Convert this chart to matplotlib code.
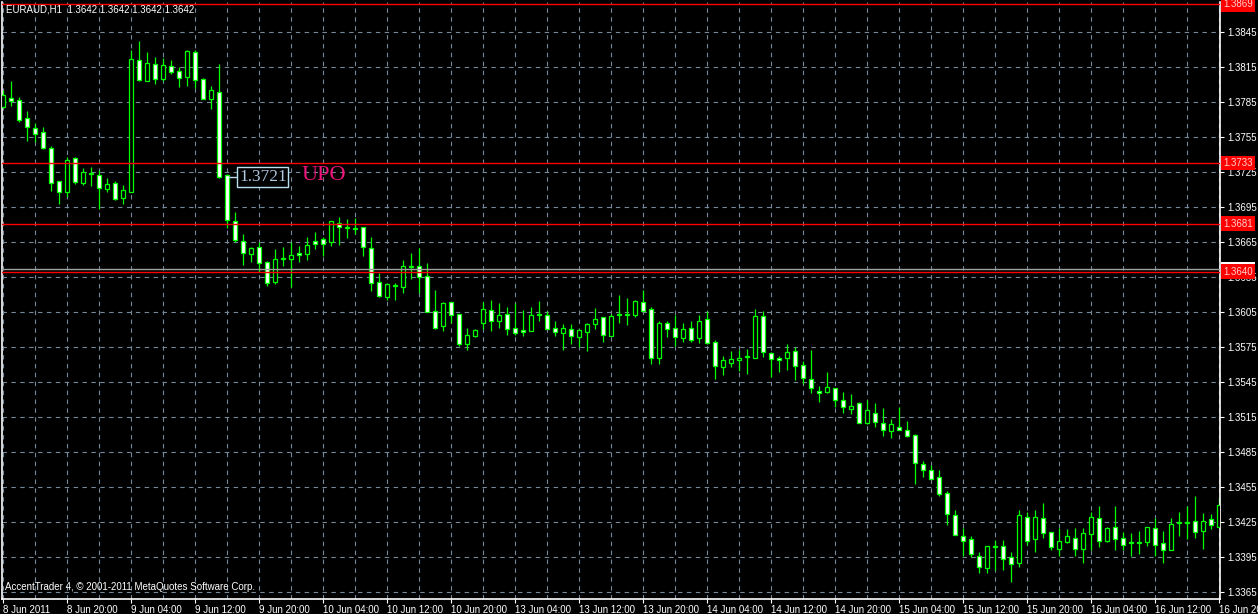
import numpy as np
import matplotlib
matplotlib.use("Agg")
from matplotlib import pyplot as plt
from matplotlib.transforms import blended_transform_factory

# EURAUD H1 candles, 8 Jun 2011 12:00 .. 16 Jun 2011 20:00
opens = [1.3781, 1.3789, 1.3787, 1.3772, 1.3763, 1.3760, 1.3746, 1.3718, 1.3708, 1.3737,
         1.3716, 1.3724, 1.3723, 1.3711, 1.3716, 1.3703, 1.3708, 1.3821, 1.3803, 1.3818,
         1.3805, 1.3816, 1.3812, 1.3807, 1.3828, 1.3805, 1.3788, 1.3794, 1.3723, 1.3683,
         1.3666, 1.3655, 1.3661, 1.3648, 1.3631, 1.3651, 1.3651, 1.3656, 1.3655, 1.3666,
         1.3668, 1.3665, 1.3682, 1.3678, 1.3677, 1.3678, 1.3660, 1.3631, 1.3618, 1.3628,
         1.3627, 1.3644, 1.3645, 1.3636, 1.3606, 1.3593, 1.3614, 1.3604, 1.3578, 1.3585,
         1.3596, 1.3607, 1.3598, 1.3604, 1.3592, 1.3590, 1.3589, 1.3603, 1.3603, 1.3592,
         1.3587, 1.3591, 1.3584, 1.3588, 1.3595, 1.3601, 1.3585, 1.3603, 1.3603, 1.3603,
         1.3614, 1.3608, 1.3566, 1.3596, 1.3592, 1.3583, 1.3592, 1.3583, 1.3599, 1.3580,
         1.3558, 1.3562, 1.3564, 1.3567, 1.3566, 1.3602, 1.3570, 1.3566, 1.3566, 1.3572,
         1.3560, 1.3548, 1.3538, 1.3537, 1.3540, 1.3530, 1.3522, 1.3527, 1.3510, 1.3519,
         1.3510, 1.3503, 1.3507, 1.3504, 1.3500, 1.3475, 1.3470, 1.3464, 1.3450, 1.3431,
         1.3413, 1.3411, 1.3396, 1.3386, 1.3404, 1.3405, 1.3395, 1.3390, 1.3430, 1.3411,
         1.3429, 1.3417, 1.3402, 1.3408, 1.3412, 1.3402, 1.3415, 1.3429, 1.3409, 1.3421,
         1.3412, 1.3408, 1.3408, 1.3408, 1.3420, 1.3407, 1.3401, 1.3425, 1.3425, 1.3426,
         1.3418, 1.3428, 1.3421]
highs = [1.3796, 1.3803, 1.3790, 1.3778, 1.3767, 1.3764, 1.3748, 1.3718, 1.3738, 1.3738,
         1.3729, 1.3730, 1.3727, 1.3720, 1.3718, 1.3714, 1.3830, 1.3838, 1.3828, 1.3824,
         1.3823, 1.3821, 1.3815, 1.3830, 1.3830, 1.3806, 1.3799, 1.3818, 1.3724, 1.3691,
         1.3672, 1.3661, 1.3665, 1.3649, 1.3659, 1.3661, 1.3665, 1.3662, 1.3670, 1.3674,
         1.3670, 1.3683, 1.3687, 1.3685, 1.3686, 1.3678, 1.3670, 1.3639, 1.3630, 1.3630,
         1.3650, 1.3656, 1.3660, 1.3647, 1.3624, 1.3614, 1.3614, 1.3604, 1.3592, 1.3591,
         1.3614, 1.3616, 1.3613, 1.3610, 1.3613, 1.3607, 1.3610, 1.3615, 1.3606, 1.3598,
         1.3595, 1.3595, 1.3591, 1.3596, 1.3609, 1.3601, 1.3604, 1.3620, 1.3617, 1.3616,
         1.3624, 1.3610, 1.3598, 1.3598, 1.3603, 1.3596, 1.3598, 1.3603, 1.3606, 1.3581,
         1.3568, 1.3572, 1.3573, 1.3574, 1.3608, 1.3606, 1.3571, 1.3568, 1.3578, 1.3575,
         1.3563, 1.3573, 1.3542, 1.3554, 1.3540, 1.3537, 1.3535, 1.3528, 1.3530, 1.3527,
         1.3523, 1.3514, 1.3524, 1.3512, 1.3501, 1.3478, 1.3474, 1.3470, 1.3452, 1.3436,
         1.3420, 1.3413, 1.3400, 1.3405, 1.3410, 1.3410, 1.3400, 1.3436, 1.3434, 1.3436,
         1.3442, 1.3417, 1.3420, 1.3419, 1.3420, 1.3420, 1.3434, 1.3439, 1.3421, 1.3439,
         1.3417, 1.3416, 1.3418, 1.3421, 1.3429, 1.3418, 1.3429, 1.3434, 1.3439, 1.3448,
         1.3433, 1.3432, 1.3446]
lows = [1.3780, 1.3782, 1.3768, 1.3752, 1.3751, 1.3745, 1.3709, 1.3698, 1.3704, 1.3715,
        1.3714, 1.3713, 1.3694, 1.3708, 1.3701, 1.3698, 1.3708, 1.3803, 1.3803, 1.3801,
        1.3803, 1.3809, 1.3798, 1.3799, 1.3797, 1.3788, 1.3779, 1.3720, 1.3677, 1.3665,
        1.3646, 1.3648, 1.3640, 1.3628, 1.3629, 1.3645, 1.3627, 1.3648, 1.3650, 1.3659,
        1.3653, 1.3662, 1.3663, 1.3669, 1.3672, 1.3653, 1.3623, 1.3618, 1.3616, 1.3616,
        1.3622, 1.3634, 1.3622, 1.3605, 1.3591, 1.3589, 1.3596, 1.3576, 1.3573, 1.3584,
        1.3591, 1.3589, 1.3592, 1.3586, 1.3586, 1.3585, 1.3589, 1.3598, 1.3591, 1.3585,
        1.3573, 1.3578, 1.3575, 1.3572, 1.3591, 1.3580, 1.3585, 1.3596, 1.3594, 1.3601,
        1.3606, 1.3561, 1.3561, 1.3584, 1.3576, 1.3580, 1.3580, 1.3579, 1.3578, 1.3548,
        1.3551, 1.3558, 1.3555, 1.3552, 1.3566, 1.3567, 1.3550, 1.3554, 1.3556, 1.3547,
        1.3544, 1.3536, 1.3528, 1.3536, 1.3524, 1.3519, 1.3518, 1.3510, 1.3509, 1.3507,
        1.3499, 1.3497, 1.3504, 1.3498, 1.3458, 1.3464, 1.3462, 1.3448, 1.3423, 1.3414,
        1.3396, 1.3395, 1.3382, 1.3382, 1.3384, 1.3384, 1.3374, 1.3387, 1.3406, 1.3400,
        1.3412, 1.3401, 1.3396, 1.3407, 1.3396, 1.3390, 1.3401, 1.3404, 1.3408, 1.3401,
        1.3401, 1.3396, 1.3398, 1.3405, 1.3396, 1.3390, 1.3401, 1.3413, 1.3411, 1.3412,
        1.3402, 1.3419, 1.3421]
closes = [1.3791, 1.3786, 1.3770, 1.3764, 1.3758, 1.3746, 1.3716, 1.3708, 1.3736, 1.3717,
          1.3725, 1.3724, 1.3712, 1.3715, 1.3702, 1.3710, 1.3822, 1.3804, 1.3819, 1.3805,
          1.3817, 1.3811, 1.3806, 1.3829, 1.3804, 1.3788, 1.3796, 1.3721, 1.3684, 1.3667,
          1.3656, 1.3660, 1.3647, 1.3630, 1.3651, 1.3651, 1.3654, 1.3654, 1.3663, 1.3664,
          1.3664, 1.3683, 1.3678, 1.3678, 1.3677, 1.3661, 1.3630, 1.3619, 1.3629, 1.3628,
          1.3645, 1.3644, 1.3635, 1.3605, 1.3592, 1.3613, 1.3603, 1.3578, 1.3586, 1.3590,
          1.3608, 1.3598, 1.3603, 1.3591, 1.3587, 1.3588, 1.3603, 1.3603, 1.3591, 1.3588,
          1.3592, 1.3585, 1.3590, 1.3595, 1.3599, 1.3586, 1.3602, 1.3603, 1.3603, 1.3615,
          1.3606, 1.3566, 1.3596, 1.3591, 1.3584, 1.3591, 1.3581, 1.3598, 1.3579, 1.3559,
          1.3564, 1.3565, 1.3566, 1.3567, 1.3602, 1.3571, 1.3565, 1.3564, 1.3571, 1.3559,
          1.3549, 1.3540, 1.3536, 1.3541, 1.3530, 1.3524, 1.3525, 1.3510, 1.3521, 1.3511,
          1.3504, 1.3509, 1.3504, 1.3499, 1.3476, 1.3470, 1.3462, 1.3449, 1.3432, 1.3414,
          1.3409, 1.3398, 1.3387, 1.3405, 1.3404, 1.3394, 1.3389, 1.3431, 1.3409, 1.3430,
          1.3416, 1.3404, 1.3409, 1.3413, 1.3402, 1.3416, 1.3430, 1.3409, 1.3420, 1.3411,
          1.3406, 1.3408, 1.3408, 1.3421, 1.3406, 1.3401, 1.3424, 1.3425, 1.3425, 1.3417,
          1.3426, 1.3423, 1.3440]

time_labels = ["8 Jun 2011", "8 Jun 20:00", "9 Jun 04:00", "9 Jun 12:00", "9 Jun 20:00",
               "10 Jun 04:00", "10 Jun 12:00", "10 Jun 20:00", "13 Jun 04:00", "13 Jun 12:00",
               "13 Jun 20:00", "14 Jun 04:00", "14 Jun 12:00", "14 Jun 20:00", "15 Jun 04:00",
               "15 Jun 12:00", "15 Jun 20:00", "16 Jun 04:00", "16 Jun 12:00", "16 Jun 20:00"]
price_ticks = [1.3845, 1.3815, 1.3785, 1.3755, 1.3725, 1.3695, 1.3665, 1.3635, 1.3605,
               1.3575, 1.3545, 1.3515, 1.3485, 1.3455, 1.3425, 1.3395, 1.3365]
red_levels = [1.3869, 1.3733, 1.3681, 1.3640]
bid_price = 1.3642
arrow_price = 1.3721

GREEN = "#00ff00"
GRID = "#778899"

o = np.array(opens)
h = np.array(highs)
l = np.array(lows)
c = np.array(closes)
x = np.arange(len(o))

W, H = 1258, 614
fig = plt.figure(figsize=(W / 100, H / 100), dpi=100, facecolor="black")
ax = fig.add_axes([2 / W, 15 / H, 1218 / W, 597 / H], facecolor="black")
ax.set_xlim(-0.125, 152.125)
ax.set_ylim(1.33593, 1.38710)
ax.set_axisbelow(True)

# wicks then bodies
ax.vlines(x, l, h, color=GREEN, lw=0.9, zorder=2)
bull = c >= o
body_lo = np.minimum(o, c)
body_h = np.maximum(np.abs(c - o), 0.00008)
ax.bar(x, body_h, bottom=body_lo - np.where(np.abs(c - o) < 0.00008, 0.00004, 0), width=0.62,
       color=np.where(bull, "black", "white"), edgecolor=GREEN, linewidth=0.9, zorder=3)

# horizontal level lines
for lv in red_levels:
    ax.axhline(lv, color="#ff0000", lw=1.0, zorder=4)
ax.axhline(bid_price, color="#a0a0a0", lw=1.0, zorder=4)

# grid
ax.set_yticks(price_ticks)
ax.set_yticklabels(["%.4f" % p for p in price_ticks])
ax.set_xticks(np.arange(0, 153, 8))
ax.set_xticklabels(time_labels, ha="left")
ax.set_xticks(np.arange(4, 153, 8), minor=True)
ax.grid(True, which="both", axis="x", color=GRID, lw=0.8, linestyle=(0, (4, 4)))
ax.grid(True, which="major", axis="y", color=GRID, lw=0.8, linestyle=(0, (4, 4)))

ax.yaxis.tick_right()
ax.tick_params(axis="y", colors="white", labelsize=7, length=3, width=0.8, pad=2)
ax.tick_params(axis="x", which="major", colors="white", labelsize=7, length=3, width=0.8, pad=1)
ax.tick_params(axis="x", which="minor", length=0)
for lab in ax.get_xticklabels() + ax.get_yticklabels():
    lab.set_fontfamily("Liberation Sans")

for side in ["left", "bottom", "right"]:
    ax.spines[side].set_color("white")
    ax.spines[side].set_linewidth(1.2)
ax.spines["top"].set_visible(False)

# price labels on the right scale
tr = blended_transform_factory(ax.transAxes, ax.transData)
ax.text(1.0 + 3 / 1218, bid_price, "%.4f" % bid_price, transform=tr, fontsize=7,
        family="Liberation Sans", color="black", va="center", ha="left", clip_on=False,
        bbox=dict(boxstyle="square,pad=0.25", fc="white", ec="none"), zorder=5)
for lv in red_levels:
    ax.text(1.0 + 3 / 1218, lv, "%.4f" % lv, transform=tr, fontsize=7,
            family="Liberation Sans", color="#ffd0d0", va="center", ha="left", clip_on=False,
            bbox=dict(boxstyle="square,pad=0.25", fc="#ff0000", ec="none"), zorder=6)

# price arrow label and text object
ax.plot([28.3, 29.4], [arrow_price, arrow_price], color="#b8d8e8", lw=1, zorder=5)
ax.text(29.5, arrow_price, "%.4f" % arrow_price, fontsize=12.5, family="Liberation Serif",
        color="#b0c8e0", va="center", ha="left", zorder=6,
        bbox=dict(boxstyle="square,pad=0.1", fc="black", ec="#b8e0f0", lw=1))
ax.text(37.25, arrow_price + 0.0001, "UPO", fontsize=16, family="Liberation Serif",
        color="#f0147c", va="center", ha="left", zorder=6)

fig.text(6 / W, 1 - 10 / H, "EURAUD,H1  1.3642 1.3642 1.3642 1.3642", color="white",
         fontsize=7, family="Liberation Sans", va="center", ha="left")
fig.text(5 / W, 1 - 587 / H, "AccentTrader 4, \u00a9 2001-2011 MetaQuotes Software Corp.",
         color="white", fontsize=7, family="Liberation Sans", va="center", ha="left")

fig.savefig("out.png", dpi=100, facecolor="black")
